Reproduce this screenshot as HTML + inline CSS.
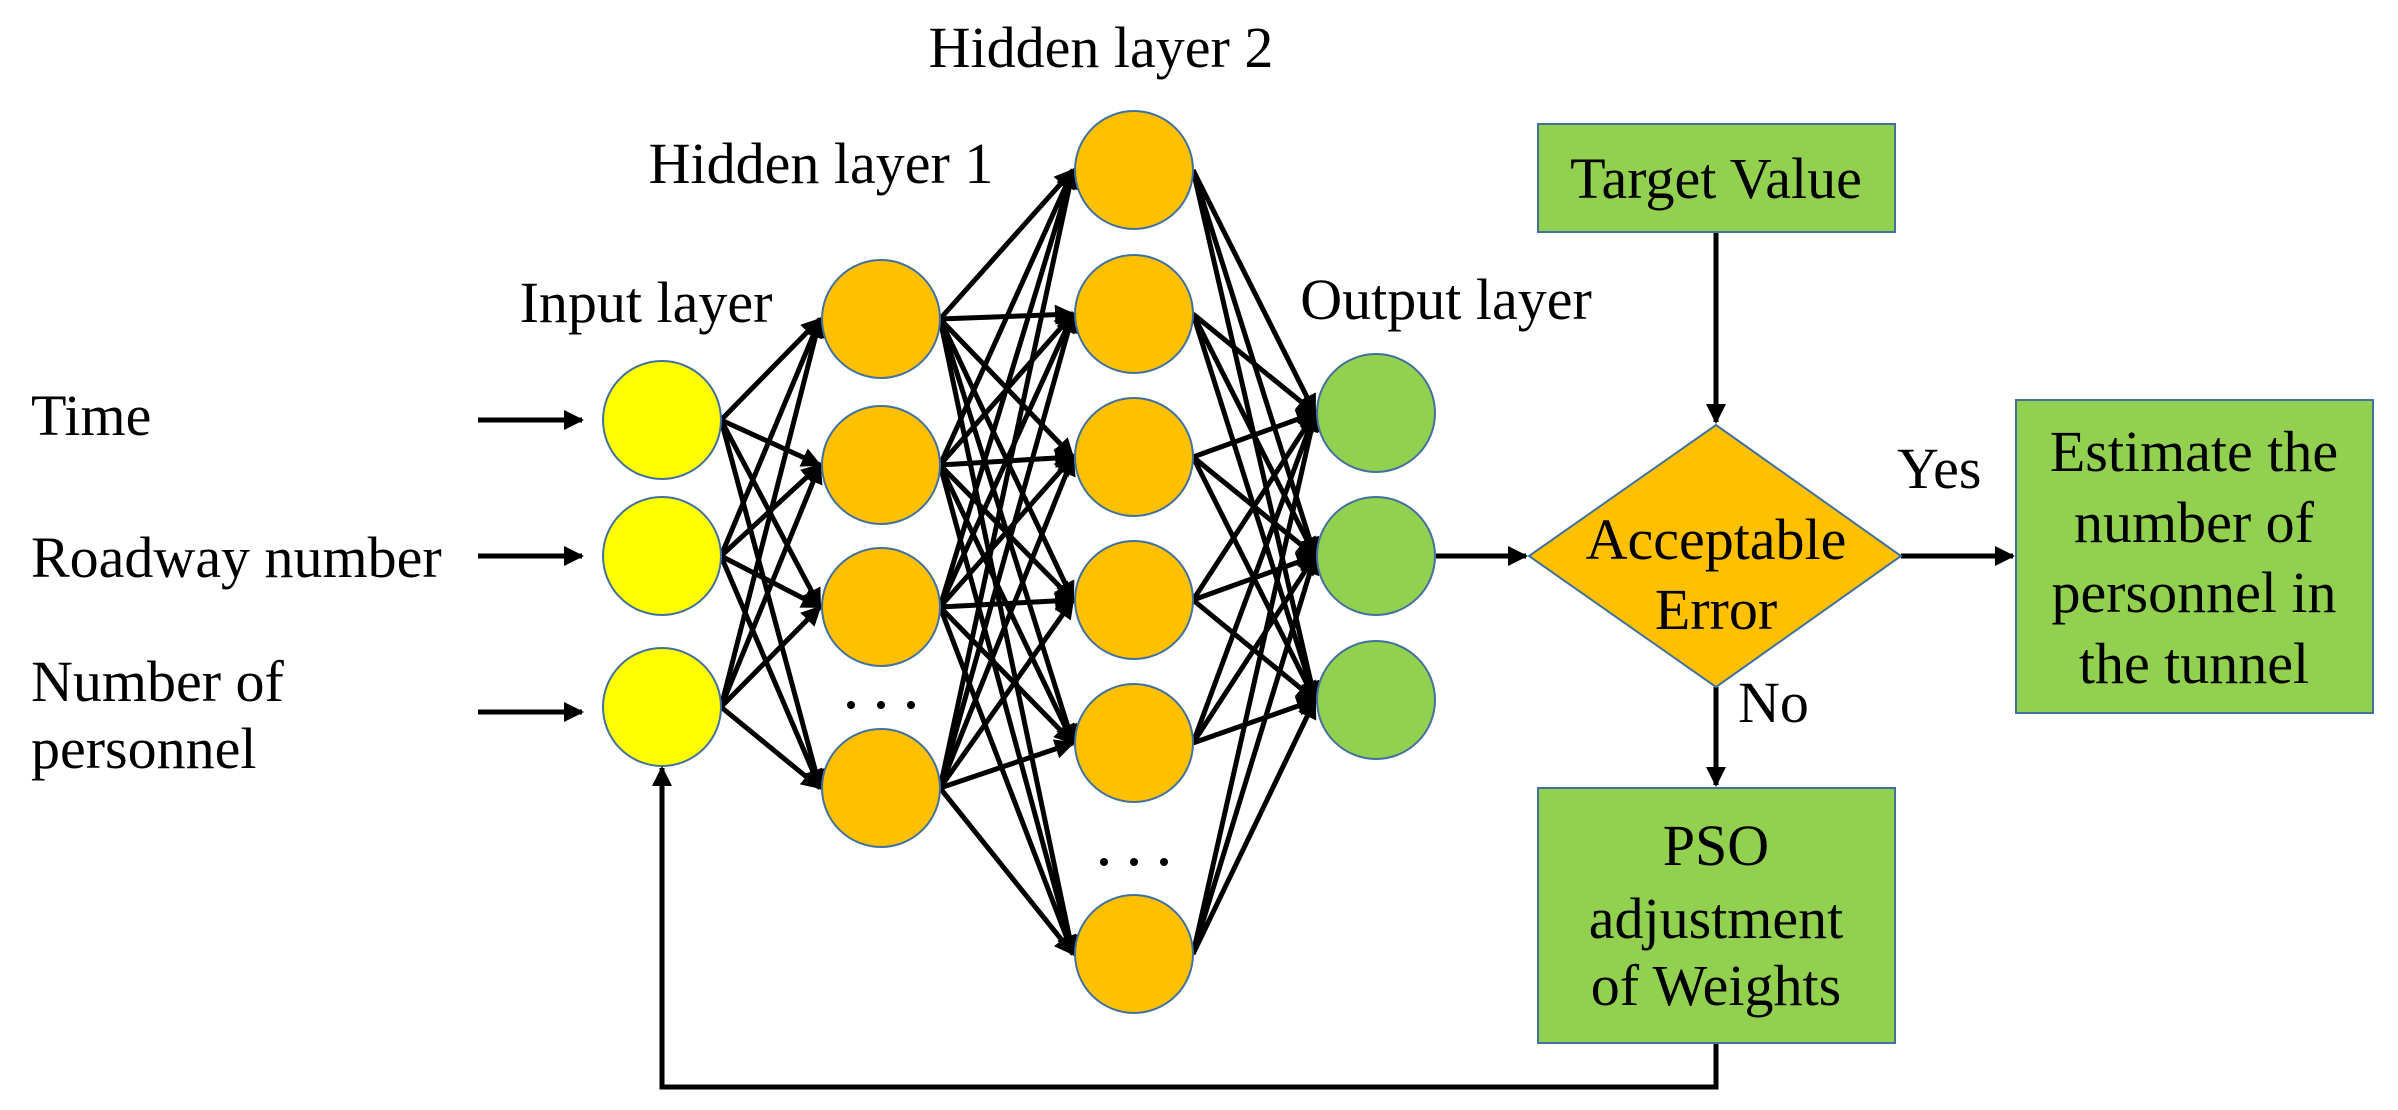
<!DOCTYPE html>
<html><head><meta charset="utf-8"><style>
html,body{margin:0;padding:0;background:#fff;}
svg{display:block;}
svg text{font-family:"Liberation Serif","DejaVu Serif","Times New Roman",serif !important;font-size:58px;fill:#000;}
</style></head><body>
<svg id="s" width="2398" height="1110" viewBox="0 0 2398 1110" xmlns="http://www.w3.org/2000/svg" font-family="Liberation Serif, DejaVu Serif, serif">
<defs>
<marker id="a" markerWidth="4" markerHeight="4" refX="3.6" refY="2" orient="auto" markerUnits="strokeWidth">
<path d="M0,0 L4,2 L0,4 z" fill="#000"/>
</marker>
</defs>
<g id="lines" stroke="#000" stroke-width="5" fill="none"></g>
<g id="nodes"></g>
<g stroke="#000" stroke-width="5" fill="none">
<line x1="478" y1="420" x2="582" y2="420" marker-end="url(#a)"/>
<line x1="478" y1="556" x2="582" y2="556" marker-end="url(#a)"/>
<line x1="478" y1="712" x2="582" y2="712" marker-end="url(#a)"/>
<line x1="1436" y1="556" x2="1526" y2="556" marker-end="url(#a)"/>
<line x1="1716" y1="232" x2="1716" y2="422" marker-end="url(#a)"/>
<line x1="1901" y1="556" x2="2013" y2="556" marker-end="url(#a)"/>
<line x1="1716" y1="687" x2="1716" y2="785" marker-end="url(#a)"/>
<polyline points="1716,1043 1716,1087 662,1087 662,768" marker-end="url(#a)"/>
</g>
<rect x="1538" y="124" width="357" height="108" fill="#92D050" stroke="#41719C" stroke-width="2"/>
<polygon points="1716,425 1901,556 1716,687 1529,556" fill="#FFC000" stroke="#41719C" stroke-width="2"/>
<rect x="2016" y="400" width="357" height="313" fill="#92D050" stroke="#41719C" stroke-width="2"/>
<rect x="1538" y="788" width="357" height="255" fill="#92D050" stroke="#41719C" stroke-width="2"/>
<g font-family="Liberation Serif, DejaVu Serif, serif" font-size="58">
<g text-anchor="middle">
<text x="1716" y="198">Target Value</text>
<text x="1716" y="559">Acceptable</text>
<text x="1716" y="629">Error</text>
<text x="2194" y="471">Estimate the</text>
<text x="2194" y="542">number of</text>
<text x="2194" y="612">personnel in</text>
<text x="2194" y="683">the tunnel</text>
<text x="1716" y="865">PSO</text>
<text x="1716" y="938">adjustment</text>
<text x="1716" y="1005">of Weights</text>
<text x="1101" y="67">Hidden layer 2</text>
<text x="821" y="183">Hidden layer 1</text>
<text x="646" y="322">Input layer</text>
<text x="1446" y="319">Output layer</text>
</g>
<text x="1897" y="488">Yes</text>
<text x="1738" y="722">No</text>
<text x="31" y="435">Time</text>
<text x="31" y="577">Roadway number</text>
<text x="31" y="701">Number of</text>
<text x="31" y="768">personnel</text>
</g>
<g fill="#000">
<circle cx="851" cy="705" r="4"/><circle cx="881" cy="705" r="4"/><circle cx="911" cy="705" r="4"/>
<circle cx="1104" cy="862" r="4"/><circle cx="1134" cy="862" r="4"/><circle cx="1164" cy="862" r="4"/>
</g>
</svg>
<script>
var R=59,ns="http://www.w3.org/2000/svg";
var L=[{x:662,ys:[420,556,707],c:"#FFFF00"},{x:881,ys:[319,465,607,788],c:"#FFC000"},{x:1134,ys:[170,314,457,600,743,954],c:"#FFC000"},{x:1376,ys:[413,556,700],c:"#92D050"}];
var lg=document.getElementById("lines"),ng=document.getElementById("nodes");
for(var i=0;i<3;i++){var A=L[i],B=L[i+1];A.ys.forEach(function(y1){B.ys.forEach(function(y2){var l=document.createElementNS(ns,"line");l.setAttribute("x1",A.x+R);l.setAttribute("y1",y1);l.setAttribute("x2",B.x-R-2);l.setAttribute("y2",y2);l.setAttribute("marker-end","url(#a)");lg.appendChild(l);});});}
L.forEach(function(A){A.ys.forEach(function(y){var c=document.createElementNS(ns,"circle");c.setAttribute("cx",A.x);c.setAttribute("cy",y);c.setAttribute("r",R);c.setAttribute("fill",A.c);c.setAttribute("stroke","#41719C");c.setAttribute("stroke-width","2");ng.appendChild(c);});});
</script>
</body></html>
